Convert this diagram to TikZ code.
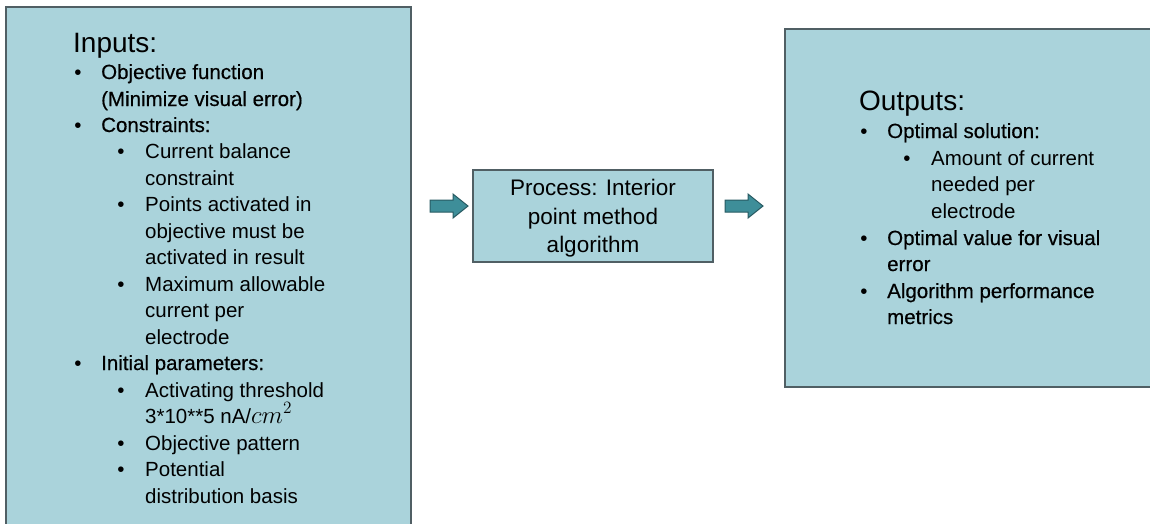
\documentclass[tikz,border=0pt]{standalone}
\usepackage{fontspec}
\setmainfont{Liberation Sans}
\newfontfamily\medfont[FakeBold=0.5]{Liberation Sans}
\begin{document}
\begin{tikzpicture}[x=1pt,y=-1pt,
  boxstyle/.style={fill=boxfill,draw=boxline,line width=1.2pt},
  arrowstyle/.style={fill=arrfill,draw=arrline,line width=1pt},
  head/.style={anchor=base west,inner sep=0pt,font=\fontsize{28}{30}\selectfont},
  body/.style={anchor=base west,inner sep=0pt,font=\fontsize{20.5}{24}\selectfont},
  bodym/.style={anchor=base west,inner sep=0pt,font=\fontsize{20.5}{24}\medfont},
  bul/.style={anchor=base,inner sep=0pt,font=\fontsize{20.5}{24}\selectfont},
  mid/.style={anchor=base,inner sep=0pt,font=\fontsize{22.5}{26}\selectfont}]
\definecolor{boxfill}{RGB}{170,211,219}
\definecolor{boxline}{RGB}{80,95,100}
\definecolor{arrfill}{RGB}{62,142,153}
\definecolor{arrline}{RGB}{40,90,98}
\useasboundingbox (0,0) rectangle (1150,523);
\clip (0,0) rectangle (1150,523);
% boxes
\draw[boxstyle] (6,7) rectangle (411,540);
\draw[boxstyle] (473,170) rectangle (713,262);
\draw[boxstyle] (785,29) rectangle (1165,387);
% arrows
\draw[arrowstyle] (430,200) -- (453,200) -- (453,194) -- (468,206) -- (453,218) -- (453,212) -- (430,212) -- cycle;
\draw[arrowstyle] (725,200) -- (748,200) -- (748,194) -- (763,206) -- (748,218) -- (748,212) -- (725,212) -- cycle;
% inputs
\node[head] (inh) at (73,52) {Inputs:};
\node[bul] (b1) at (78,79) {•};
\node[bodym] (t1) at (101,79) {Objective function};
\node[bodym] (t2) at (101,106) {(Minimize visual error)};
\node[bul] (b2) at (78,132) {•};
\node[bodym] (t3) at (101,132) {Constraints:};
\node[bul] (b3) at (121,158) {•};
\node[body] (t4) at (145,158) {Current balance};
\node[body] (t5) at (145,185) {constraint};
\node[bul] (b4) at (121,211) {•};
\node[body] (t6) at (145,211) {Points activated in};
\node[body] (t7) at (145,238) {objective must be};
\node[body] (t8) at (145,264) {activated in result};
\node[bul] (b5) at (121,291) {•};
\node[body] (t9) at (145,291) {Maximum allowable};
\node[body] (t10) at (145,317) {current per};
\node[body] (t11) at (145,344) {electrode};
\node[bul] (b6) at (78,370) {•};
\node[bodym] (t12) at (101,370) {Initial parameters:};
\node[bul] (b7) at (121,397) {•};
\node[body] (t13) at (145,397) {Activating threshold};
\node[body] (t14) at (145,423) {3*10**5 nA/\scalebox{1.2}{$cm^2$}};
\node[bul] (b8) at (121,450) {•};
\node[body] (t15) at (145,450) {Objective pattern};
\node[bul] (b9) at (121,476) {•};
\node[body] (t16) at (145,476) {Potential};
\node[body] (t17) at (145,503) {distribution basis};
% process
\node[mid] (p1) at (593,195) {Process: Interior};
\node[mid] (p2) at (593,224) {point method};
\node[mid] (p3) at (593,252) {algorithm};
% outputs
\node[head] (outh) at (859,110) {Outputs:};
\node[bul] (o1) at (864,138) {•};
\node[bodym] (u1) at (887,138) {Optimal solution:};
\node[bul] (o2) at (907,165) {•};
\node[body] (u2) at (931,165) {Amount of current};
\node[body] (u3) at (931,191) {needed per};
\node[body] (u4) at (931,218) {electrode};
\node[bul] (o3) at (864,245) {•};
\node[bodym] (u5) at (887,245) {Optimal value for visual};
\node[bodym] (u6) at (887,271) {error};
\node[bul] (o4) at (864,298) {•};
\node[bodym] (u7) at (887,298) {Algorithm performance};
\node[bodym] (u8) at (887,324) {metrics};
\end{tikzpicture}
\end{document}
